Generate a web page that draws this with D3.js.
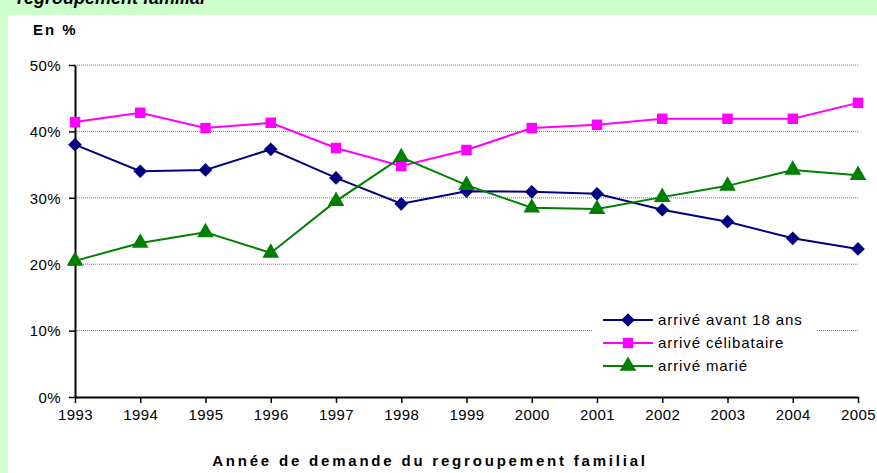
<!DOCTYPE html>
<html><head><meta charset="utf-8">
<script src="https://cdn.jsdelivr.net/npm/d3@7"></script>
<style>body{margin:0;background:#ccffcc;}svg{display:block;font-family:"Liberation Sans",Arial,sans-serif;}</style>
</head><body>
<svg id="c" width="877" height="473"></svg>
<script>
const years = [1993,1994,1995,1996,1997,1998,1999,2000,2001,2002,2003,2004,2005];
const avant18 = [38.0,34.0,34.2,37.3,33.0,29.1,31.0,30.9,30.6,28.2,26.4,23.9,22.3];
const celibataire = [41.4,42.8,40.5,41.3,37.5,34.8,37.2,40.5,41.0,41.9,41.9,41.9,44.3];
const marie = [20.5,23.2,24.8,21.7,29.5,36.1,31.9,28.5,28.3,30.1,31.8,34.2,33.4];
const yTicks = [0,10,20,30,40,50];
const seriesNames = ["arrivé avant 18 ans","arrivé célibataire","arrivé marié"];

const svg = d3.select("#c");
svg.append("rect").attr("x",0).attr("y",0).attr("width",877).attr("height",473).attr("fill","#ccffcc");
svg.append("rect").attr("x",8).attr("y",15).attr("width",869).attr("height",458).attr("fill","#ffffff");
svg.append("text").attr("x",205).attr("y",4).attr("text-anchor","end")
  .attr("font-size",18).attr("font-style","italic").attr("font-weight","bold").attr("fill","#000").text("regroupement familial");

const x = d3.scalePoint().domain(years).range([75,858]);
const y = d3.scaleLinear().domain([0,50]).range([397,65]);

// gridlines
const grid = svg.append("g");
yTicks.filter(t=>t>0).forEach(t=>{
  grid.append("line").attr("x1",75).attr("x2",858).attr("y1",y(t)).attr("y2",y(t))
    .attr("stroke","#808080").attr("stroke-width",1).attr("stroke-dasharray","1,1");
});

// axes
const yAxis = svg.append("g").attr("transform","translate(75,0)")
  .call(d3.axisLeft(y).tickValues(yTicks).tickSize(6).tickSizeOuter(0).tickFormat(d=>d+"%"));
const xAxis = svg.append("g").attr("transform","translate(0,397)")
  .call(d3.axisBottom(x).tickSize(6).tickSizeOuter(0));
[yAxis,xAxis].forEach(a=>{
  a.select(".domain").attr("stroke","#000").attr("stroke-width",2);
  a.selectAll(".tick line").attr("stroke","#000").attr("stroke-width",1.5);
  a.selectAll("text").attr("font-size",15).attr("fill","#000").attr("letter-spacing","0.4px")
    .attr("font-family","Liberation Sans, Arial, sans-serif");
});
yAxis.selectAll("text").attr("x",-14).attr("dy","0.35em");
xAxis.selectAll("text").attr("y",12).attr("dy","0.71em");

// legend
const lg = svg.append("g");
lg.append("rect").attr("x",593).attr("y",303).attr("width",224).attr("height",82).attr("fill","#fff");

const colors = ["#000080","#ff00ff","#008000"];
const shapes = [
  d3.symbol().type(d3.symbolDiamond2).size(120),
  d3.symbol().type(d3.symbolSquare).size(110),
  d3.symbol().type(d3.symbolTriangle).size(120)
];
const data = [avant18, celibataire, marie];
const line = d3.line().x((d,i)=>x(years[i])).y(d=>y(d));
data.forEach((s,k)=>{
  svg.append("path").datum(s).attr("d",line).attr("fill","none").attr("stroke",colors[k]).attr("stroke-width",2);
});
data.forEach((s,k)=>{
  svg.append("g").selectAll("path").data(s).join("path")
    .attr("transform",(d,i)=>`translate(${x(years[i])},${y(d)})`)
    .attr("d",shapes[k]).attr("fill",colors[k]);
});

seriesNames.forEach((n,k)=>{
  const ly = 320 + k*23;
  lg.append("line").attr("x1",603).attr("x2",653).attr("y1",ly).attr("y2",ly).attr("stroke",colors[k]).attr("stroke-width",2);
  lg.append("path").attr("transform",`translate(628,${ly})`).attr("d",shapes[k]).attr("fill",colors[k]);
  lg.append("text").attr("x",658).attr("y",ly).attr("dy","0.35em").attr("font-size",15)
    .attr("letter-spacing","0.9px").attr("fill","#000").text(n);
});

svg.append("text").attr("x",33).attr("y",35).attr("font-size",15).attr("font-weight","bold")
  .attr("letter-spacing","2px").text("En %");
svg.append("text").attr("x",430).attr("y",466).attr("text-anchor","middle").attr("font-size",15)
  .attr("font-weight","bold").attr("letter-spacing","2.8px").text("Année de demande du regroupement familial");
</script>
</body></html>
